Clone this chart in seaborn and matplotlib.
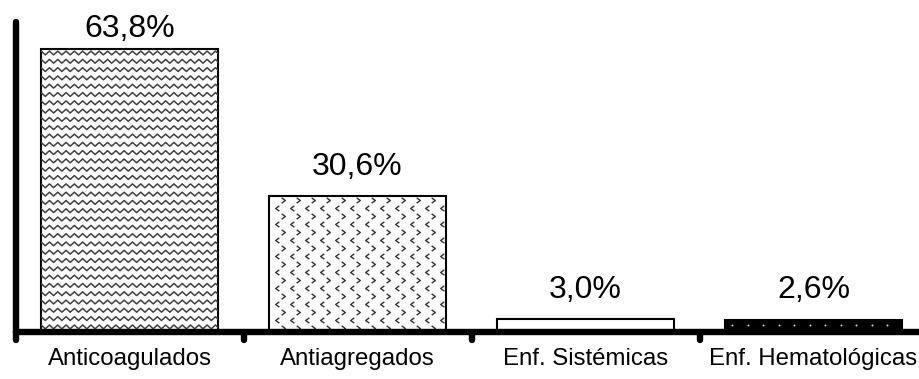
import numpy as np
import pandas as pd
import matplotlib
matplotlib.use("Agg")
import matplotlib.pyplot as plt
from matplotlib.lines import Line2D
from matplotlib.markers import MarkerStyle, TICKDOWN
from matplotlib.path import Path
from matplotlib.transforms import IdentityTransform
import seaborn as sns

# Data
categories = ["Anticoagulados", "Antiagregados", "Enf. Sistémicas", "Enf. Hematológicas"]
percentages = [63.8, 30.6, 3.0, 2.6]

# Styling per bar
fill_colors = ["white", "white", "white", "black"]
fill_patterns = ["wave", "chevron", None, "dots"]
label_offsets_pt = [8.6, 15.2, 15.2, 16.4]

sns.set_theme(style="white")
plt.rcParams["font.family"] = ["Liberation Sans", "DejaVu Sans"]

DPI = 100
W, H = 919, 379
fig = plt.figure(figsize=(W / DPI, H / DPI), dpi=DPI)
ax = fig.add_axes([15.5 / W, 47 / H, 912 / W, 310.5 / H])

df = pd.DataFrame({"categoria": categories, "porcentaje": percentages})
sns.barplot(data=df, x="categoria", y="porcentaje", color="white", saturation=1,
            width=0.775, edgecolor="black", linewidth=1.5, ax=ax)
ax.set_xlim(-0.5, 3.5)
ax.set_ylim(0, 70)
ax.set_xlabel("")
ax.set_ylabel("")

for bar, fc in zip(ax.patches, fill_colors):
    bar.set_facecolor(fc)

# Axes frame
for side in ("top", "right"):
    ax.spines[side].set_visible(False)
for side in ("left", "bottom"):
    ax.spines[side].set_linewidth(4.6)
    ax.spines[side].set_color("black")
    ax.spines[side].set_capstyle("round")

ax.set_yticks([])
ax.set_xticks(range(len(categories)), categories)
ax.set_xticks(np.arange(len(categories)) - 0.5, minor=True)
ax.tick_params(axis="x", which="major", length=0, pad=11.5, labelsize=17.3,
               labelcolor="black")
ax.tick_params(axis="x", which="minor", direction="out", length=5.8, width=4.6,
               color="black", bottom=True)
for t in ax.xaxis.get_minor_ticks():
    t.tick1line.set_marker(MarkerStyle(TICKDOWN, capstyle="round"))

# Fill patterns, built in pixel space and clipped to each bar
ident = IdentityTransform()
chev_right = Path([(-0.35, 0.5), (0.35, 0.0), (-0.35, -0.5)],
                  [Path.MOVETO, Path.LINETO, Path.LINETO])
chev_left = Path([(0.35, 0.5), (-0.35, 0.0), (0.35, -0.5)],
                 [Path.MOVETO, Path.LINETO, Path.LINETO])


def add_clipped(line, bar):
    ax.add_artist(line)
    line.set_clip_path(bar)


for bar, pattern in zip(ax.patches, fill_patterns):
    if pattern is None:
        continue
    x0, y0 = ax.transData.transform((bar.get_x(), 0))
    x1, y1 = ax.transData.transform((bar.get_x() + bar.get_width(), bar.get_height()))
    z = bar.get_zorder() + 0.01
    if pattern == "wave":
        period, row_gap, amp = 8.3, 8.3, 1.9
        row = y1 - 4.0
        while row > y0 - row_gap:
            xs = np.arange(x0 - period, x1 + period, period / 2)
            ys = row + amp * np.where(np.arange(len(xs)) % 2 == 0, 1, -1)
            add_clipped(Line2D(xs, ys, transform=ident, color="#404040", lw=1.1,
                               solid_joinstyle="round", zorder=z), bar)
            row -= row_gap
    elif pattern == "chevron":
        dx, dy = 15.0, 8.0
        row, r = y1 - 4.0, 0
        while row > y0:
            start = x0 + (14.0 if r % 2 == 0 else 7.5)
            xs = np.arange(start, x1 - 1, dx)
            marker = chev_right if r % 2 == 0 else chev_left
            add_clipped(Line2D(xs, np.full(len(xs), row), transform=ident,
                               linestyle="none", marker=marker, markersize=3.8,
                               markerfacecolor="none", markeredgecolor="#333333",
                               markeredgewidth=1.0, zorder=z), bar)
            row -= dy
            r += 1
    elif pattern == "dots":
        dx, dy = 15.5, 8.0
        row = y1 - 4.3
        while row > y0:
            xs = np.arange(x0 + 7.0, x1 - 2, dx)
            add_clipped(Line2D(xs, np.full(len(xs), row), transform=ident,
                               linestyle="none", marker="o", markersize=1.4,
                               markerfacecolor="#d8d8d8", markeredgewidth=0,
                               zorder=z), bar)
            row -= dy

# Value labels
for i, (v, off) in enumerate(zip(percentages, label_offsets_pt)):
    ax.annotate(f"{v:.1f}%".replace(".", ","), xy=(i, v), xytext=(0, off),
                textcoords="offset points", ha="center", va="baseline",
                fontsize=23, color="black", annotation_clip=False)

fig.savefig("out.png", dpi=DPI, facecolor="white")
